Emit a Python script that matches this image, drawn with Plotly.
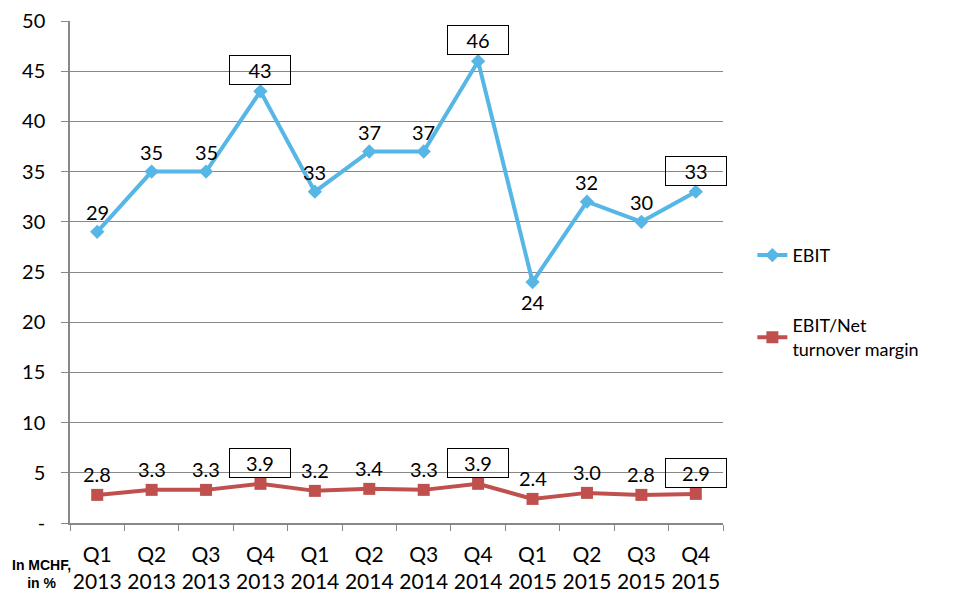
import plotly.graph_objects as go

categories = ["Q1<br>2013", "Q2<br>2013", "Q3<br>2013", "Q4<br>2013",
              "Q1<br>2014", "Q2<br>2014", "Q3<br>2014", "Q4<br>2014",
              "Q1<br>2015", "Q2<br>2015", "Q3<br>2015", "Q4<br>2015"]
ebit = [29, 35, 35, 43, 33, 37, 37, 46, 24, 32, 30, 33]
margin = [2.8, 3.3, 3.3, 3.9, 3.2, 3.4, 3.3, 3.9, 2.4, 3.0, 2.8, 2.9]
ebit_labels = ["29", "35", "35", "43", "33", "37", "37", "46", "24", "32", "30", "33"]
margin_labels = ["2.8", "3.3", "3.3", "3.9", "3.2", "3.4", "3.3", "3.9", "2.4", "3.0", "2.8", "2.9"]
boxed = [3, 7, 11]
below_ebit = [8]
ytick_vals = [0, 5, 10, 15, 20, 25, 30, 35, 40, 45, 50]
ytick_text = ["-", "5", "10", "15", "20", "25", "30", "35", "40", "45", "50"]

FONT = "Lato, Open Sans, sans-serif"
BLUE = "#56B6E6"
RED = "#C0504D"

fig = go.Figure()
fig.add_trace(go.Scatter(
    x=categories, y=ebit, name="EBIT", mode="lines+markers",
    line=dict(color=BLUE, width=4),
    marker=dict(symbol="diamond", size=11, color=BLUE),
    legendgroup="a"))
fig.add_trace(go.Scatter(
    x=categories, y=margin, name="EBIT/Net<br>turnover margin", mode="lines+markers",
    line=dict(color=RED, width=4),
    marker=dict(symbol="square", size=12, color=RED),
    legendgroup="b"))

annotations = []
for i, (v, t) in enumerate(zip(ebit, ebit_labels)):
    shift = -20 if i in below_ebit else 20
    a = dict(x=categories[i], y=v, text=t, showarrow=False, yshift=shift,
             font=dict(size=20, color="black", family=FONT))
    if i in boxed:
        a.update(bordercolor="black", borderwidth=1, width=58, height=26, yshift=21)
    annotations.append(a)
for i, (v, t) in enumerate(zip(margin, margin_labels)):
    a = dict(x=categories[i], y=v, text=t, showarrow=False, yshift=21,
             font=dict(size=20, color="black", family=FONT))
    if i in boxed:
        a.update(bordercolor="black", borderwidth=1, width=58, height=26)
    annotations.append(a)
annotations.append(dict(xref="paper", yref="paper", x=-0.043, y=-0.064,
                        xanchor="center", yanchor="top", align="center",
                        text="<b>In MCHF,<br>in %</b>", showarrow=False,
                        font=dict(size=14, color="black", family="Liberation Sans, Arial")))

fig.update_layout(
    width=957, height=597,
    margin=dict(l=70, r=234, t=21, b=74, autoexpand=False),
    paper_bgcolor="white", plot_bgcolor="white",
    font=dict(family=FONT, color="black"),
    showlegend=True,
    legend=dict(x=1.045, y=0.57, xanchor="left", yanchor="top",
                font=dict(size=18, family=FONT, color="black"),
                tracegroupgap=44, bgcolor="rgba(0,0,0,0)"),
    annotations=annotations,
)
fig.update_xaxes(
    range=[-0.5, 11.5], showgrid=False, showline=True, linecolor="#888888",
    linewidth=1.5, ticks="outside", tickson="boundaries", ticklen=6,
    tickcolor="#888888", tickangle=0, automargin=False,
    ticklabelstandoff=12,
    tickfont=dict(size=21, family=FONT, color="black"),
    zeroline=False)
fig.update_yaxes(
    range=[0, 50], tickvals=ytick_vals, ticktext=ytick_text,
    showgrid=True, gridcolor="#888888", gridwidth=1,
    showline=True, linecolor="#888888", linewidth=1.5,
    ticks="outside", ticklen=7, tickcolor="#888888", automargin=False,
    ticklabelstandoff=12,
    tickfont=dict(size=20, family=FONT, color="black"), zeroline=False)

fig.write_html("out.html")
